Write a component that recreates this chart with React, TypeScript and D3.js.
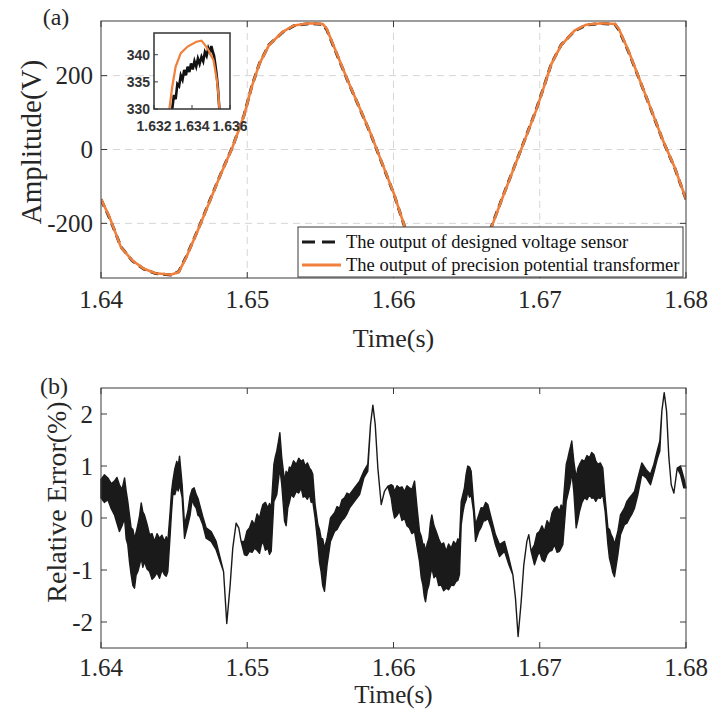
import * as d3 from "d3";

// ---- panel (a): voltage waveforms ----
const waveT = [
  1.64, 1.64058, 1.64137, 1.64215, 1.64294, 1.64373, 1.64478, 1.64531, 1.64583, 1.64662,
  1.64741, 1.6482, 1.64899, 1.64978, 1.6503, 1.65083, 1.65148, 1.6524, 1.65319, 1.65424,
  1.65516, 1.65543, 1.65608, 1.65687, 1.65766, 1.65845, 1.65924, 1.66003, 1.66055, 1.66108,
  1.66137, 1.66215, 1.66294, 1.66373, 1.66478, 1.66531, 1.66583, 1.66662, 1.66738, 1.66817,
  1.66896, 1.66975, 1.67028, 1.6708, 1.67146, 1.67238, 1.67317, 1.67422, 1.67514, 1.6754,
  1.67606, 1.67685, 1.67764, 1.67843, 1.67922, 1.68,
];
// precision potential transformer (orange)
const ptVoltage = [
  -134, -183, -265, -301, -323, -335, -339, -332, -292, -219,
  -143, -66, 6, 92, 169, 232, 282, 318, 336, 342,
  340, 327, 264, 187, 115, 42, -39, -120, -183, -246,
  -268, -302, -324, -336, -339, -332, -292, -219, -138, -57,
  24, 106, 169, 232, 282, 322, 338, 342, 340, 327,
  268, 187, 106, 24, -48, -134,
];
// designed voltage sensor (black dashed)
const sensorVoltage = [
  -135, -185, -264, -302, -324, -336, -340, -331, -290, -218,
  -141, -65, 7, 93, 170, 233, 283, 317, 335, 341,
  339, 325, 262, 186, 114, 41, -40, -121, -184, -247,
  -269, -303, -325, -337, -340, -331, -290, -217, -137, -56,
  25, 107, 170, 233, 283, 321, 337, 341, 339, 325,
  266, 186, 105, 23, -49, -135,
];

// inset: zoom on the peak near 1.634 s
const insetPtT = [1.63281, 1.63296, 1.63314, 1.63341, 1.63377, 1.63423, 1.6345, 1.63468, 1.63486, 1.63513, 1.63531, 1.6354, 1.63544];
const insetPtV = [330, 334.1, 337.8, 340.3, 341.5, 342.4, 342.6, 341.8, 340.9, 339, 335.3, 332.3, 330];
const insetSensorT = [
  1.63296, 1.63305, 1.63314, 1.63323, 1.63332, 1.63341, 1.6335, 1.63359, 1.63368, 1.63377,
  1.63386, 1.63395, 1.63404, 1.63413, 1.63422, 1.63431, 1.6344, 1.6345, 1.63459, 1.63468,
  1.63477, 1.63486, 1.63495, 1.63502, 1.63509, 1.63516, 1.63522, 1.63529, 1.63536, 1.63544,
];
const insetSensorV = [
  330, 332.6, 331.8, 334.6, 334.2, 336.2, 335.4, 337.2, 336.2, 337.8,
  336.8, 338.4, 337.3, 338.8, 337.8, 339.3, 338.3, 339.6, 338.8, 340.5,
  339.8, 341.2, 340.4, 341.6, 340.6, 339.8, 338.4, 336.5, 334.1, 330,
];

// ---- panel (b): relative error (%), drawn as band between low and high envelope ----
const errT = [
  1.64, 1.64023, 1.64047, 1.6407, 1.64092, 1.64109, 1.64126, 1.64144, 1.64161, 1.64172,
  1.64183, 1.64195, 1.64206, 1.64218, 1.64229, 1.6424, 1.64252, 1.64264, 1.64275, 1.64286,
  1.64297, 1.64315, 1.64332, 1.64349, 1.64366, 1.64383, 1.644, 1.64417, 1.64434, 1.64446,
  1.64457, 1.64473, 1.64482, 1.64491, 1.64505, 1.64518, 1.64528, 1.64537, 1.64555, 1.64571,
  1.64594, 1.64609, 1.64623, 1.64637, 1.64651, 1.64663, 1.64674, 1.64696, 1.64719, 1.64753,
  1.64787, 1.64815, 1.64838, 1.6486, 1.64883, 1.64901, 1.64924, 1.64942, 1.64958,
  1.64981, 1.64998, 1.65015, 1.65033, 1.6505, 1.65067, 1.65084, 1.65096, 1.65107, 1.65124,
  1.65141, 1.65152, 1.65164, 1.65182, 1.65192, 1.65202, 1.65212, 1.65223, 1.65236, 1.65255,
  1.65266, 1.65277, 1.65288, 1.653, 1.65317, 1.65335, 1.65352, 1.65369, 1.65382, 1.65396,
  1.65411, 1.65426, 1.65437, 1.65448, 1.65464, 1.65483, 1.65494, 1.65505, 1.65516, 1.65528,
  1.65546, 1.65569, 1.65597, 1.65614, 1.65631, 1.65648, 1.65665, 1.65682, 1.65699, 1.65733,
  1.65768, 1.65797, 1.65824, 1.65843, 1.65859, 1.65875, 1.65893, 1.65916, 1.65938, 1.65961,
  1.65984, 1.65996, 1.66007, 1.66024, 1.66041, 1.66058, 1.66075, 1.66092, 1.66109, 1.66126,
  1.66144, 1.66161, 1.66178, 1.6619, 1.66201, 1.6621, 1.66219, 1.6623, 1.66242, 1.66252,
  1.66262, 1.66277, 1.66292, 1.66309, 1.66326, 1.66343, 1.6636, 1.66377, 1.66394, 1.66411,
  1.66428, 1.6644, 1.66451, 1.66463, 1.66474, 1.66485, 1.66497, 1.66508, 1.6652, 1.66531,
  1.66547, 1.66561, 1.66583, 1.66599, 1.66615, 1.6663, 1.66645, 1.66668, 1.66697, 1.66725,
  1.66759, 1.66789, 1.66816, 1.66834, 1.66852, 1.66873, 1.66891, 1.66912, 1.66925, 1.66941,
  1.66964, 1.66981, 1.66998, 1.67015, 1.67032, 1.6705, 1.67067, 1.67084, 1.67101, 1.67118,
  1.67135, 1.67146, 1.67158, 1.67181, 1.67192, 1.67203, 1.67211, 1.67219, 1.67233, 1.67249,
  1.6726, 1.67272, 1.67289, 1.67306, 1.67323, 1.6734, 1.67355, 1.6737, 1.67383, 1.67397,
  1.67414, 1.67431, 1.67447, 1.67466, 1.67477, 1.67488, 1.67499, 1.67511, 1.67534, 1.67552,
  1.67579, 1.67596, 1.67614, 1.67631, 1.67648, 1.67671, 1.67698, 1.67728, 1.67757, 1.6778,
  1.67803, 1.67821, 1.67835, 1.67851, 1.67867, 1.67883, 1.67899, 1.67917, 1.6794, 1.67962,
  1.67985, 1.68,
];
const errHi = [
  0.74, 0.83, 0.77, 0.66, 0.71, 0.78, 0.64, 0.55, 0.77, 0.52,
  0.32, 0.05, -0.19, -0.22, -0.39, -0.28, -0.13, 0.05, 0.29, 0.12,
  0.06, -0.12, -0.32, -0.3, -0.45, -0.3, -0.39, -0.33, -0.45, -0.36,
  -0.45, 0.13, 0.5, 0.71, 0.95, 1.09, 1.0, 1.19, 0.64, -0.13,
  0.13, 0.42, 0.55, 0.58, 0.45, 0.38, 0.26, 0.03, -0.19, -0.26,
  -0.45, -0.77, -1.03, -2.03, -1.29, -0.58, -0.1, -0.19, -0.45,
  -0.45, -0.25, -0.19, -0.05, -0.13, 0.08, 0.0, 0.15, 0.26, 0.3,
  0.19, 0.28, 0.19, 1.03, 1.18, 1.29, 1.45, 1.64, 1.16, 0.71,
  0.9, 0.84, 0.98, 0.96, 1.1, 1.03, 1.15, 1.09, 1.12, 1.0,
  1.06, 0.96, 0.92, 0.84, 0.26, -0.13, -0.22, -0.39, -0.4, -0.58,
  -0.39, 0.0, 0.1, 0.22, 0.19, 0.35, 0.39, 0.48, 0.45, 0.58,
  0.71, 0.9, 1.03, 1.8, 2.17, 1.8, 0.96, 0.26, 0.51, 0.61,
  0.64, 0.62, 0.51, 0.62, 0.58, 0.6, 0.51, 0.62, 0.58, 0.55,
  0.71, 0.2, -0.26, -0.35, -0.51, -0.5, -0.64, -0.5, -0.39, -0.1,
  0.06, -0.15, -0.26, -0.4, -0.51, -0.48, -0.64, -0.5, -0.58, -0.45,
  -0.51, -0.4, -0.45, 0.32, 0.45, 0.58, 0.85, 1.0, 0.98, 0.9,
  0.32, -0.13, 0.06, 0.2, 0.19, 0.3, 0.26, 0.0, -0.32, -0.51,
  -0.45, -0.77, -1.09, -1.54, -2.28, -1.61, -0.9, -0.45, -0.32, -0.64,
  -0.51, -0.3, -0.26, -0.15, -0.26, -0.05, -0.13, 0.1, 0.19, 0.22,
  0.13, 0.25, 0.19, 1.03, 1.15, 1.29, 1.38, 1.48, 1.09, 0.77,
  0.95, 1.03, 1.12, 1.09, 1.2, 1.16, 1.26, 1.22, 1.1, 1.03,
  1.06, 0.96, 0.39, -0.19, -0.22, -0.32, -0.38, -0.51, -0.26, 0.06,
  0.19, 0.32, 0.39, 0.45, 0.51, 0.77, 1.06, 0.93, 0.84, 1.03,
  1.29, 1.48, 2.06, 2.41, 2.06, 1.16, 0.64, 0.48, 0.96, 1.0,
  0.77, 0.58,
];
const errLo = [
  0.39, 0.3, 0.35, 0.18, 0.06, -0.1, -0.26, -0.15, 0.0, -0.4,
  -0.51, -0.85, -1.09, -1.3, -1.35, -1.1, -1.03, -0.9, -0.77, -0.95,
  -0.84, -0.98, -1.03, -1.18, -1.13, -1.05, -1.16, -1.0, -1.09, -1.12,
  -1.03, -0.32, 0.1, 0.45, 0.45, 0.58, 0.52, 0.64, 0.39, -0.39,
  -0.13, 0.05, 0.35, 0.25, 0.19, 0.05, 0.03, -0.13, -0.39, -0.45,
  -0.61, -0.84, -1.03, -2.03, -1.29, -0.58, -0.1, -0.19, -0.45,
  -0.71, -0.72, -0.64, -0.66, -0.58, -0.62, -0.68, -0.52, -0.45, -0.62,
  -0.58, -0.7, -0.64, 0.32, 0.38, 0.45, 0.7, 0.96, 0.64, -0.06,
  -0.15, 0.19, 0.3, 0.45, 0.4, 0.51, 0.48, 0.58, 0.4, 0.42,
  0.36, 0.45, 0.3, 0.32, 0.0, -0.51, -0.85, -1.03, -1.3, -1.41,
  -0.9, -0.45, -0.26, -0.22, -0.13, -0.05, 0.0, 0.08, 0.19, 0.32,
  0.45, 0.77, 0.9, 1.8, 2.17, 1.8, 0.96, 0.26, 0.51, 0.61,
  0.39, 0.15, 0.0, 0.05, 0.13, -0.05, 0.0, -0.15, -0.19, -0.3,
  -0.26, -0.55, -0.84, -1.15, -1.29, -1.5, -1.61, -1.4, -1.29, -1.1,
  -0.96, -1.15, -1.09, -1.3, -1.29, -1.4, -1.35, -1.38, -1.29, -1.3,
  -1.22, -1.2, -1.09, -0.13, 0.1, 0.26, 0.35, 0.51, 0.4, 0.45,
  0.13, -0.45, -0.26, -0.18, -0.06, -0.05, 0.0, -0.19, -0.51, -0.74,
  -0.64, -0.9, -1.09, -1.54, -2.28, -1.61, -0.9, -0.45, -0.32, -0.64,
  -0.9, -0.75, -0.64, -0.8, -0.84, -0.7, -0.64, -0.62, -0.51, -0.66,
  -0.64, -0.58, -0.51, 0.32, 0.45, 0.58, 0.7, 0.9, 0.51, -0.19,
  -0.05, 0.13, 0.3, 0.39, 0.35, 0.45, 0.38, 0.39, 0.32, 0.39,
  0.38, 0.45, 0.13, -0.51, -0.78, -0.9, -1.05, -1.13, -0.71, -0.32,
  -0.13, -0.1, 0.0, 0.08, 0.19, 0.45, 0.84, 0.77, 0.64, 0.87,
  1.13, 1.29, 2.06, 2.41, 2.06, 1.16, 0.64, 0.48, 0.96, 0.84,
  0.58, 0.58,
];

const timeTicks = [1.64, 1.65, 1.66, 1.67, 1.68];
const voltTicks = [-200, 0, 200];
const errTicks = [-2, -1, 0, 1, 2];
const insetXTicks = [1.632, 1.634, 1.636];
const insetYTicks = [330, 335, 340];
const legendLabels = [
  "The output of designed voltage sensor",
  "The output of precision potential transformer",
];

const ORANGE = "#f0803c";
const AXIS = "#3a3a3a";
const TXT = "#262626";
const SERIF = "'Liberation Serif', 'Times New Roman', serif";
const SANS = "'Liberation Sans', Arial, sans-serif";

function App() {
  const W = 723, H = 719;
  const A = { l: 101, r: 686, t: 21, b: 278 };
  const B = { l: 101, r: 686, t: 388, b: 648 };
  const I = { l: 154, r: 230, t: 33, b: 109 };
  const tk = 6;

  const xA = d3.scaleLinear().domain([1.64, 1.68]).range([A.l, A.r]);
  const yA = d3.scaleLinear().domain([-348, 348]).range([A.b, A.t]);
  const xB = d3.scaleLinear().domain([1.64, 1.68]).range([B.l, B.r]);
  const yB = d3.scaleLinear().domain([-2.5, 2.5]).range([B.b, B.t]);
  const xI = d3.scaleLinear().domain([1.632, 1.636]).range([I.l, I.r]);
  const yI = d3.scaleLinear().domain([330, 344]).range([I.b, I.t]);

  const lineA = d3.line<number>().x((_, i) => xA(waveT[i])).y((v) => yA(v));
  const lineIpt = d3.line<number>().x((_, i) => xI(insetPtT[i])).y((v) => yI(v));
  const lineIs = d3.line<number>().x((_, i) => xI(insetSensorT[i])).y((v) => yI(v));
  const areaB = d3
    .area<number>()
    .x((t) => xB(t))
    .y0((_, i) => yB(errLo[i]))
    .y1((_, i) => yB(errHi[i]));

  const fmt = (v: number) => (v < 0 ? "-" + Math.abs(v) : String(v));

  return (
    <svg width={W} height={H} style={{ position: "absolute", left: 0, top: 0, background: "#fff" }}>
      <defs>
        <clipPath id="clipA"><rect x={A.l} y={A.t} width={A.r - A.l} height={A.b - A.t} /></clipPath>
        <clipPath id="clipI"><rect x={I.l} y={I.t} width={I.r - I.l} height={I.b - I.t} /></clipPath>
      </defs>

      {/* ---------- panel (a) ---------- */}
      <text x={56} y={25} fontFamily={SERIF} fontSize={24} fill={TXT} textAnchor="middle">(a)</text>
      <rect x={A.l} y={A.t} width={A.r - A.l} height={A.b - A.t} fill="#fff" />
      {timeTicks.slice(1, -1).map((t) => (
        <line key={"gx" + t} x1={xA(t)} x2={xA(t)} y1={A.t} y2={A.b} stroke="#d6d6d6" strokeDasharray="7 5" />
      ))}
      {voltTicks.map((v) => (
        <line key={"gy" + v} x1={A.l} x2={A.r} y1={yA(v)} y2={yA(v)} stroke="#d6d6d6" strokeDasharray="7 5" />
      ))}
      <g clipPath="url(#clipA)">
        <path d={lineA(sensorVoltage) || ""} fill="none" stroke="#1a1a1a" strokeWidth={3} strokeDasharray="8 5" />
        <path d={lineA(ptVoltage) || ""} fill="none" stroke={ORANGE} strokeWidth={2.6} />
      </g>
      {timeTicks.map((t) => (
        <g key={"tx" + t}>
          <line x1={xA(t)} x2={xA(t)} y1={A.b} y2={A.b - tk} stroke={AXIS} />
          <line x1={xA(t)} x2={xA(t)} y1={A.t} y2={A.t + tk} stroke={AXIS} />
          <text x={xA(t)} y={308} fontFamily={SERIF} fontSize={25} fill={TXT} textAnchor="middle">{t.toFixed(2)}</text>
        </g>
      ))}
      {voltTicks.map((v) => (
        <g key={"ty" + v}>
          <line x1={A.l} x2={A.l + tk} y1={yA(v)} y2={yA(v)} stroke={AXIS} />
          <line x1={A.r} x2={A.r - tk} y1={yA(v)} y2={yA(v)} stroke={AXIS} />
          <text x={93} y={yA(v) + 8.5} fontFamily={SERIF} fontSize={25} fill={TXT} textAnchor="end">{fmt(v)}</text>
        </g>
      ))}
      <rect x={A.l} y={A.t} width={A.r - A.l} height={A.b - A.t} fill="none" stroke={AXIS} />
      <text x={(A.l + A.r) / 2} y={347} fontFamily={SERIF} fontSize={26} fill={TXT} textAnchor="middle">Time(s)</text>
      <text transform={`translate(41,142) rotate(-90)`} fontFamily={SERIF} fontSize={29} fill={TXT} textAnchor="middle">Amplitude(V)</text>

      {/* legend */}
      <g>
        <rect x={298} y={227} width={385} height={50} fill="#fff" stroke={AXIS} />
        <line x1={302} x2={341} y1={242} y2={242} stroke="#1a1a1a" strokeWidth={3} strokeDasharray="13 7" />
        <line x1={302} x2={341} y1={265} y2={265} stroke={ORANGE} strokeWidth={3} />
        {legendLabels.map((s, i) => (
          <text key={s} x={346} y={248 + i * 23} fontFamily={SERIF} fontSize={18.5} fill="#111">{s}</text>
        ))}
      </g>

      {/* inset */}
      <rect x={I.l} y={I.t} width={I.r - I.l} height={I.b - I.t} fill="#fff" />
      <g clipPath="url(#clipI)">
        <path d={lineIs(insetSensorV) || ""} fill="none" stroke="#111" strokeWidth={2.6} />
        <path d={lineIpt(insetPtV) || ""} fill="none" stroke={ORANGE} strokeWidth={2.2} />
      </g>
      {insetYTicks.map((v) => (
        <g key={"iy" + v}>
          <line x1={I.l} x2={I.l + 4} y1={yI(v)} y2={yI(v)} stroke={AXIS} />
          <text x={150} y={yI(v) + 5} fontFamily={SANS} fontWeight="bold" fontSize={14} fill="#333" textAnchor="end">{v}</text>
        </g>
      ))}
      {insetXTicks.map((t) => (
        <g key={"ix" + t}>
          <line x1={xI(t)} x2={xI(t)} y1={I.b} y2={I.b - 4} stroke={AXIS} />
          <text x={xI(t)} y={131} fontFamily={SANS} fontWeight="bold" fontSize={14} fill="#333" textAnchor="middle">{t.toFixed(3)}</text>
        </g>
      ))}
      <rect x={I.l} y={I.t} width={I.r - I.l} height={I.b - I.t} fill="none" stroke="#333" strokeWidth={1.5} />

      {/* ---------- panel (b) ---------- */}
      <text x={54} y={394} fontFamily={SERIF} fontSize={24} fill={TXT} textAnchor="middle">(b)</text>
      <path d={areaB(errT) || ""} fill="#1a1a1a" stroke="#1a1a1a" strokeWidth={1.4} strokeLinejoin="round" />
      {timeTicks.map((t) => (
        <g key={"bx" + t}>
          <line x1={xB(t)} x2={xB(t)} y1={B.b} y2={B.b - tk} stroke={AXIS} />
          <line x1={xB(t)} x2={xB(t)} y1={B.t} y2={B.t + tk} stroke={AXIS} />
          <text x={xB(t)} y={676} fontFamily={SERIF} fontSize={25} fill={TXT} textAnchor="middle">{t.toFixed(2)}</text>
        </g>
      ))}
      {errTicks.map((v) => (
        <g key={"by" + v}>
          <line x1={B.l} x2={B.l + tk} y1={yB(v)} y2={yB(v)} stroke={AXIS} />
          <line x1={B.r} x2={B.r - tk} y1={yB(v)} y2={yB(v)} stroke={AXIS} />
          <text x={93} y={yB(v) + 8.5} fontFamily={SERIF} fontSize={25} fill={TXT} textAnchor="end">{fmt(v)}</text>
        </g>
      ))}
      <rect x={B.l} y={B.t} width={B.r - B.l} height={B.b - B.t} fill="none" stroke={AXIS} />
      <text x={(B.l + B.r) / 2} y={703} fontFamily={SERIF} fontSize={25} fill={TXT} textAnchor="middle">Time(s)</text>
      <text transform={`translate(66,502) rotate(-90)`} fontFamily={SERIF} fontSize={28} fill={TXT} textAnchor="middle">Relative Error(%)</text>
    </svg>
  );
}

export default App;
